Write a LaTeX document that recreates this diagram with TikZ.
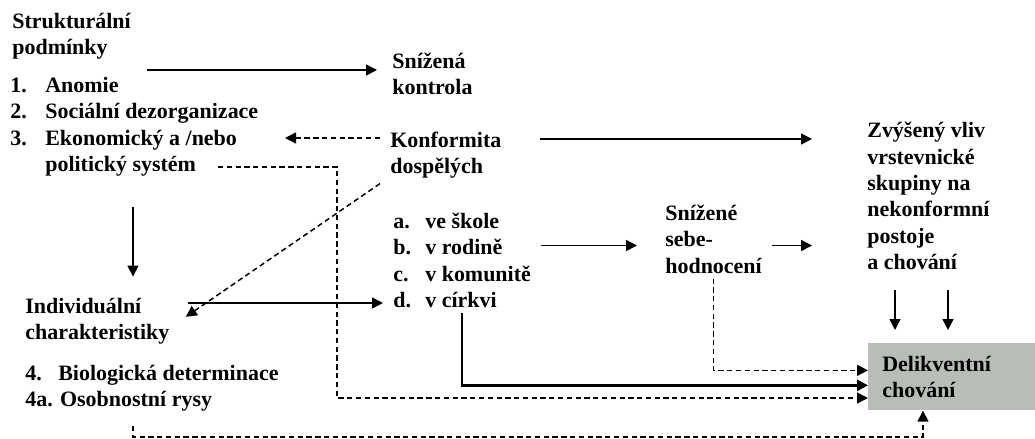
\documentclass[tikz,border=0pt]{standalone}
\usepackage{fontspec}
\setmainfont{Liberation Serif}
\usetikzlibrary{arrows.meta}
\definecolor{boxgray}{RGB}{184,189,184}
\newcommand\itm[3][0.7cm]{\makebox[#1][l]{#2}#3}

\begin{document}
\begin{tikzpicture}[x=0.02cm,y=-0.02cm,
  lbl/.style={anchor=base west,align=left,inner xsep=0.2cm,inner ysep=0.1cm,
    font=\bfseries\fontsize{12.5}{15}\selectfont},
  arr/.style={-{Triangle[length=0.22cm,width=0.22cm]},line width=0.85pt},
  darr/.style={arr,dash pattern=on 3pt off 2pt},
  tarr/.style={arr,line width=1.5pt}]
\useasboundingbox (0,0) rectangle (1035,439);
% nodes (placed at the baseline of their last line)
\node[lbl] (struk) at (2,54.5) {Strukturální\\podmínky};
\node[lbl] (podm) at (0,171.5) {\itm{1.}{Anomie}\\\itm{2.}{Sociální dezorganizace}\\
  \itm{3.}{Ekonomický a /nebo}\\\itm{}{politický systém}};
\node[lbl] (kontrola) at (382,94.5) {Snížená\\kontrola};
\node[lbl] (konform) at (380,173.5) {Konformita\\dospělých};
\node[lbl] (zvyseny) at (857,269.5) {Zvýšený vliv\\vrstevnické\\skupiny na\\nekonformní\\postoje\\a chování};
\node[lbl] (skoly) at (383,307.5) {\itm[0.64cm]{a.}{ve škole}\\\itm[0.64cm]{b.}{v rodině}\\
  \itm[0.64cm]{c.}{v komunitě}\\\itm[0.64cm]{d.}{v církvi}};
\node[lbl] (sebehod) at (655,273) {Snížené\\sebe-\\hodnocení};
\node[lbl] (individ) at (15,339.5) {Individuální\\charakteristiky};
\node[lbl] (biolog) at (15,406.5) {\itm[0.66cm]{4.}{Biologická determinace}\\4a. Osobnostní rysy};
\node[lbl,anchor=north west,fill=boxgray,minimum width=3.34cm,minimum height=1.34cm,
  inner xsep=0.28cm,text width=2.78cm] (delikv) at (868,343) {Delikventní\\chování};
%%%%%%%%%%%%%%%%%%%%%%%%%%%%%%
\coordinate (a1) at (147,70);
\coordinate (b1) at (285,138);
\coordinate (c1) at (540,139);
\coordinate (d1) at (133,207);
\coordinate (f1) at (188,303);
\coordinate (g1) at (218,167);
\coordinate (g2) at (337,398);
\coordinate (j1) at (895,290);
\coordinate (j2) at (948,290);
\coordinate (m1) at (133,426);
\coordinate (m2) at (923,437);
%%%%%%%%%%%%%%%%%%%%%%%%%%%%%%
\draw[arr,shorten >=0.1cm] (a1) -- (a1 -| kontrola.west);
\draw[darr] (konform.west |- b1) -- (b1);
\draw[arr,shorten >=0.9cm] (c1) -- (c1 -| zvyseny.west);
\draw[arr,shorten >=0.32cm] (d1) -- (d1 |- individ.north);
\draw[darr,shorten >=0.15cm] (konform.south west) -- (individ.east);
\draw[arr] (f1) -- (f1 -| skoly.west);
\draw[darr] (g1) -| (g2) -- (g2 -| delikv.west);
\draw[arr,shorten >=0.36cm] ([yshift=-0.13cm]sebehod.west -| skoly.east) -- ([yshift=-0.13cm]sebehod.west);
\draw[arr,shorten >=0.9cm] ([yshift=-0.13cm]sebehod.east) -- ([yshift=-0.13cm]sebehod.east -| zvyseny.west);
\draw[arr,shorten >=0.26cm] (j1) -- (j1 |- delikv.north);
\draw[arr,shorten >=0.26cm] (j2) -- (j2 |- delikv.north);
\draw[darr] (sebehod.south) |- ([yshift=0.13cm]delikv.west);
\draw[tarr] (skoly.south) |- ([yshift=-0.17cm]delikv.west);
\draw[darr] (m1) |- (m2) -- (m2 |- delikv.south);
\end{tikzpicture}
\end{document}
